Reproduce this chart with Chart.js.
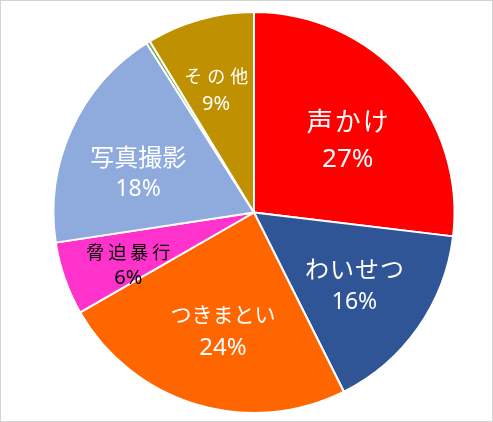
<!DOCTYPE html>
<html>
<head>
<meta charset="utf-8">
<script src="https://cdn.jsdelivr.net/npm/chart.js@4"></script>
<style>
  html, body { margin: 0; padding: 0; background: #fff; }
  .frame {
    width: 493px; height: 422px; box-sizing: border-box;
    border: 1px solid #d4d4d4; position: relative;
  }
  canvas { position: absolute; left: 0; top: 0; }
</style>
</head>
<body>
<div class="frame">
  <canvas id="pieChart" width="491" height="420"></canvas>
</div>
<script>
// categories and shares (percent)
const categories = ["声かけ", "わいせつ", "つきまとい", "脅迫暴行", "写真撮影", "", "その他"];
const shares = [26.9, 15.7, 24.1, 5.9, 18.4, 0.3, 8.7];

// styling
const sliceColors = ["#FF0000", "#2F5597", "#FF6600", "#FF33CC", "#8FAADC", "#70AD47", "#BF9000"];
const textColors = ["#fff", "#fff", "#fff", "#000", "#fff", "#fff", "#fff"];
const nameFonts = [26, 24, 21, 18, 24, 0, 18];
const pctFonts = [26, 23, 24, 20, 23, 0, 20];
const letterGap = [2, 1, 0, 4, 0, 0, 5];
const labelRadius = [0.59, 0.62, 0.61, 0.68, 0.61, 0, 0.64];
const labelTurn = [4, 1, -2, -3.5, -5.8, 0, -1.5];   // degrees
const labelGap = [39, 33, 34, 26, 32, 0, 28];

const total = shares.reduce((a, b) => a + b, 0);

const sliceLabels = {
  id: "sliceLabels",
  afterDatasetsDraw(chart) {
    const ctx = chart.ctx;
    const arcs = chart.getDatasetMeta(0).data;
    arcs.forEach((arc, i) => {
      if (!categories[i]) return;
      const p = arc.getProps(["x", "y", "startAngle", "endAngle", "outerRadius"], true);
      const mid = (p.startAngle + p.endAngle) / 2 + labelTurn[i] * Math.PI / 180;
      const r = p.outerRadius * labelRadius[i];
      const cx = p.x + Math.cos(mid) * r;
      const cy = p.y + Math.sin(mid) * r;
      const pct = Math.round(shares[i] / total * 100) + "%";

      ctx.save();
      ctx.fillStyle = textColors[i];
      ctx.textAlign = "center";
      ctx.textBaseline = "middle";
      ctx.font = nameFonts[i] + "px 'Noto Sans CJK JP', 'Noto Sans', sans-serif";
      ctx.letterSpacing = letterGap[i] + "px";
      ctx.fillText(categories[i], cx + letterGap[i] / 2, cy - labelGap[i] / 2);
      ctx.letterSpacing = "0px";
      ctx.font = pctFonts[i] + "px 'Noto Sans', 'DejaVu Sans', sans-serif";
      ctx.fillText(pct, cx, cy + labelGap[i] / 2);
      ctx.restore();
    });
  }
};

new Chart(document.getElementById("pieChart"), {
  type: "pie",
  data: {
    labels: categories,
    datasets: [{
      data: shares,
      backgroundColor: sliceColors,
      borderColor: "#ffffff",
      borderWidth: 2
    }]
  },
  options: {
    responsive: false,
    animation: false,
    layout: { padding: { top: 10, bottom: 7, left: 15, right: 0 } },
    plugins: {
      legend: { display: false },
      tooltip: { enabled: false }
    }
  },
  plugins: [sliceLabels]
});
</script>
</body>
</html>
